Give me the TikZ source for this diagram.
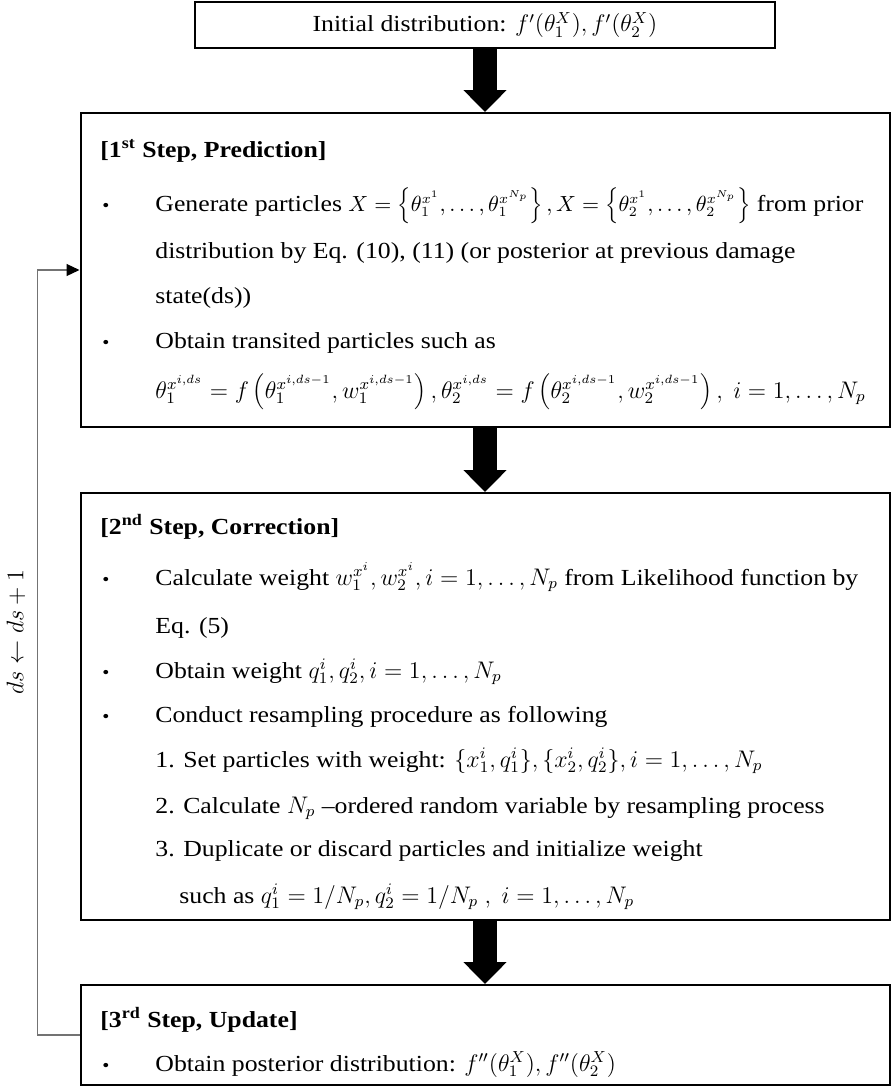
\documentclass[tikz,border=0pt]{standalone}
\usepackage{fontspec}
\setmainfont{Liberation Serif}[FakeStretch=1.12]
\usetikzlibrary{arrows.meta}
\usetikzlibrary{positioning}
\definecolor{loopgray}{gray}{0.45}
\tikzstyle{stepbox}=[rectangle,draw=black,line width=1pt,inner sep=0pt]
\tikzstyle{flowarrow}=[draw,line width=12pt,-{Triangle[length=11pt,width=21pt]}]
\tikzstyle{loopedge}=[draw=loopgray,line width=0.6pt,-{Triangle[length=6.5pt,width=6pt,color=black]}]
\tikzstyle{txt}=[anchor=base west,inner sep=0pt,font=\fontsize{11.5}{13}\selectfont]
\tikzstyle{bulletmark}=[anchor=base west,inner sep=0pt,font=\fontsize{9}{10}\selectfont]

\begin{document}
\begin{tikzpicture}[x=0.5pt,y=-0.5pt]
    \useasboundingbox (0,0) rectangle (892,1092);
    % the four boxes
    \node[stepbox,minimum width=290pt,minimum height=23pt,font=\fontsize{11.5}{13}\selectfont] (init) at (485,25) {Initial distribution: $f'(\theta_1^X), f'(\theta_2^X)$};
    \node[stepbox,minimum width=404.5pt,minimum height=157pt] (pred) at (485,270) {};
    \node[stepbox,minimum width=404.5pt,minimum height=213.5pt] (corr) at (485,706.5) {};
    \node[stepbox,minimum width=404.5pt,minimum height=50pt] (upd) at (485,1035) {};

    \foreach \pos/\name/\txt in {{(100,157)/predhead/{\textbf{[1\textsuperscript{st} Step, Prediction]}}},
        {(155,211)/predA/{Generate particles {\fontsize{10.7}{13}\selectfont$X=\left\{\theta_1^{x^1},\dots,\theta_1^{x^{N_p}}\right\}, X=\left\{\theta_2^{x^1},\dots,\theta_2^{x^{N_p}}\right\}$} from prior}},
        {(155,258)/predB/{distribution by Eq. (10), (11) (or posterior at previous damage}},
        {(155,303)/predC/{state(ds))}},
        {(155,348)/predD/{Obtain transited particles such as}},
        {(155,398)/predE/{$\theta_1^{x^{i,ds}} = f\left(\theta_1^{x^{i,ds-1}},w_1^{x^{i,ds-1}}\right), \theta_2^{x^{i,ds}} = f\left(\theta_2^{x^{i,ds-1}},w_2^{x^{i,ds-1}}\right),\ i=1,\dots,N_p$}}}
        \node[txt] (\name) at \pos {\txt};

    \foreach \pos/\name/\txt in {{(100,534)/corrhead/{\textbf{[2\textsuperscript{nd} Step, Correction]}}},
        {(155,585)/corrA/{Calculate weight $w_1^{x^i}, w_2^{x^i}, i=1,\dots,N_p$ from Likelihood function by}},
        {(155,633)/corrB/{Eq. (5)}},
        {(155,678)/corrC/{Obtain weight $q_1^i, q_2^i, i=1,\dots,N_p$}},
        {(155,722)/corrD/{Conduct resampling procedure as following}},
        {(155,767)/corrE/{1. Set particles with weight: $\{x_1^i,q_1^i\},\{x_2^i,q_2^i\}, i=1,\dots,N_p$}},
        {(155,813)/corrF/{2. Calculate $N_p$ --ordered random variable by resampling process}},
        {(155,856)/corrG/{3. Duplicate or discard particles and initialize weight}},
        {(179,903)/corrH/{such as $q_1^i=1/N_p, q_2^i=1/N_p\ ,\ i=1,\dots,N_p$}}}
        \node[txt] (\name) at \pos {\txt};

    \foreach \pos/\name/\txt in {{(100,1027)/updhead/{\textbf{[3\textsuperscript{rd} Step, Update]}}},
        {(155,1071)/updA/{Obtain posterior distribution: $f''(\theta_1^X), f''(\theta_2^X)$}}}
        \node[txt] (\name) at \pos {\txt};

    \foreach \pos/\name in {(102,211)/predb1, (102,348)/predb2, (102,585)/corrb1, (102,678)/corrb2, (102,722)/corrb3, (102,1071)/updb1}
        \node[bulletmark] (\name) at \pos {\textbullet};

    \foreach \source/ \dest in {init/pred, pred/corr, corr/upd}
        \path[flowarrow] (\source.south) -- (\dest.north);

    \path[loopedge] (upd.west) -- ++(-42,0) |- (pred.west);
    \node[rotate=90,font=\fontsize{12}{14}\selectfont] (dsstep) at (16,632) {$ds \leftarrow ds + 1$};
\end{tikzpicture}
\end{document}
